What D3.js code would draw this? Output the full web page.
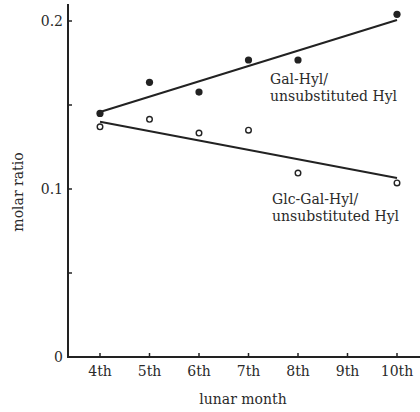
<!DOCTYPE html>
<html>
<head>
<meta charset="utf-8">
<script src="https://cdn.jsdelivr.net/npm/d3@7"></script>
<style>
  body { margin: 0; background: #fff; }
  #chart { width: 420px; height: 412px; }
  text { font-family: "DejaVu Serif", "Liberation Serif", serif; fill: #2a2a2a; }
</style>
</head>
<body>
<div id="chart"></div>
<script>
const months = [4, 5, 6, 7, 8, 9, 10];
const monthLabels = ["4th", "5th", "6th", "7th", "8th", "9th", "10th"];
const yTicks = [0, 0.05, 0.1, 0.15, 0.2];
const yTickLabels = ["0", "", "0.1", "", "0.2"];

// Gal-Hyl / unsubstituted Hyl (filled dots)
const galMonths = [4, 5, 6, 7, 8, 10];
const galValues = [0.145, 0.1635, 0.1577, 0.1768, 0.1768, 0.204];
const galFit = [[4, 0.1458], [10, 0.2006]];

// Glc-Gal-Hyl / unsubstituted Hyl (open dots)
const glcMonths = [4, 5, 6, 7, 8, 10];
const glcValues = [0.137, 0.1415, 0.1333, 0.135, 0.1095, 0.1036];
const glcFit = [[4, 0.14], [10, 0.1065]];

function drawChart(selector) {
    const container = d3.select(selector);
    container.selectAll("*").remove();

    const width = 420;
    const height = 412;

    const svg = container.append("svg")
        .attr("width", width)
        .attr("height", height);

    const x = d3.scaleLinear().domain([4, 10]).range([100, 397]);
    const y = d3.scaleLinear().domain([0, 0.2]).range([357, 21]);
    const axisX = 68;

    // Axes lines
    svg.append("line")
        .attr("x1", axisX).attr("x2", axisX)
        .attr("y1", 4).attr("y2", y(0) + 1)
        .style("stroke", "#222").style("stroke-width", 2);
    svg.append("line")
        .attr("x1", axisX - 1).attr("x2", 420)
        .attr("y1", y(0)).attr("y2", y(0))
        .style("stroke", "#222").style("stroke-width", 2);

    // Y ticks
    svg.selectAll(".ytick")
        .data(yTicks)
        .enter()
        .append("line")
        .attr("x1", axisX).attr("x2", axisX + 4)
        .attr("y1", d => y(d)).attr("y2", d => y(d))
        .style("stroke", "#222").style("stroke-width", 1.5);

    svg.selectAll(".ylabel")
        .data(yTicks)
        .enter()
        .append("text")
        .attr("x", axisX - 5)
        .attr("y", d => y(d))
        .attr("dy", "0.35em")
        .attr("text-anchor", "end")
        .style("font-size", "14px")
        .text((d, i) => yTickLabels[i]);

    // X ticks
    svg.selectAll(".xtick")
        .data(months)
        .enter()
        .append("line")
        .attr("x1", d => x(d)).attr("x2", d => x(d))
        .attr("y1", y(0)).attr("y2", y(0) - 4)
        .style("stroke", "#222").style("stroke-width", 1.5);

    svg.selectAll(".xlabel")
        .data(months)
        .enter()
        .append("text")
        .attr("x", d => x(d))
        .attr("y", y(0) + 19)
        .attr("text-anchor", "middle")
        .style("font-size", "14px")
        .text((d, i) => monthLabels[i]);

    // Axis titles
    svg.append("text")
        .attr("x", 243)
        .attr("y", 404)
        .attr("text-anchor", "middle")
        .style("font-size", "14px")
        .text("lunar month");

    svg.append("text")
        .attr("transform", "translate(23,192) rotate(-90)")
        .attr("text-anchor", "middle")
        .style("font-size", "14px")
        .text("molar ratio");

    // Fit lines
    const line = d3.line().x(d => x(d[0])).y(d => y(d[1]));
    [galFit, glcFit].forEach(fit => {
        svg.append("path")
            .datum(fit)
            .attr("d", line)
            .style("fill", "none")
            .style("stroke", "#222")
            .style("stroke-width", 2);
    });

    // Points
    svg.selectAll(".gal")
        .data(galValues)
        .enter()
        .append("circle")
        .attr("cx", (d, i) => x(galMonths[i]))
        .attr("cy", d => y(d))
        .attr("r", 3.6)
        .style("fill", "#222");

    svg.selectAll(".glc")
        .data(glcValues)
        .enter()
        .append("circle")
        .attr("cx", (d, i) => x(glcMonths[i]))
        .attr("cy", d => y(d))
        .attr("r", 2.8)
        .style("fill", "#fff")
        .style("stroke", "#222")
        .style("stroke-width", 1.4);

    // Series labels
    const labels = [
        { lines: ["Gal-Hyl/", "unsubstituted Hyl"], x: 270, y: 84 },
        { lines: ["Glc-Gal-Hyl/", "unsubstituted Hyl"], x: 272, y: 204 }
    ];
    labels.forEach(l => {
        const t = svg.append("text")
            .attr("x", l.x)
            .attr("y", l.y)
            .style("font-size", "14px");
        l.lines.forEach((s, i) => {
            t.append("tspan")
                .attr("x", l.x)
                .attr("dy", i === 0 ? 0 : 17)
                .text(s);
        });
    });
}

drawChart("#chart");
</script>
</body>
</html>
